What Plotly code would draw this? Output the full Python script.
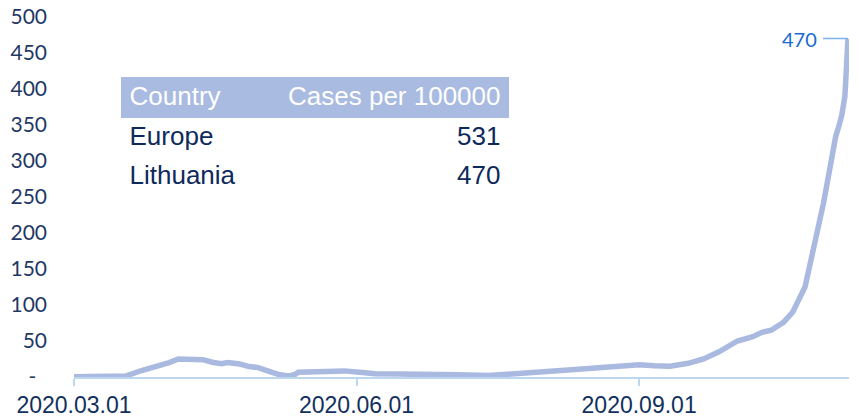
import plotly.graph_objects as go

# ---- data ----
dates = ["2020-03-01", "2020-03-10", "2020-03-18", "2020-03-23", "2020-03-29", "2020-04-01",
         "2020-04-04", "2020-04-08", "2020-04-12", "2020-04-15", "2020-04-18", "2020-04-20",
         "2020-04-24", "2020-04-27", "2020-04-30", "2020-05-04", "2020-05-07", "2020-05-10",
         "2020-05-12", "2020-05-13", "2020-05-22", "2020-05-28", "2020-06-02", "2020-06-07",
         "2020-06-15", "2020-06-24", "2020-07-04", "2020-07-14", "2020-07-22", "2020-07-30",
         "2020-08-10", "2020-08-21", "2020-09-01", "2020-09-06", "2020-09-11", "2020-09-17",
         "2020-09-22", "2020-09-27", "2020-10-03", "2020-10-08", "2020-10-11", "2020-10-14",
         "2020-10-18", "2020-10-21", "2020-10-23", "2020-10-24", "2020-10-25", "2020-10-26",
         "2020-10-27", "2020-10-28", "2020-10-29", "2020-10-30", "2020-10-31", "2020-11-01",
         "2020-11-02", "2020-11-03", "2020-11-04", "2020-11-05", "2020-11-06", "2020-11-07",
         "2020-11-08"]
lt_values = [0.5, 0.5, 1.5, 9, 16, 20,
             25, 24.5, 24, 20.5, 18.5, 20,
             18, 14.5, 13, 7, 3, 1.5,
             3.5, 6.5, 7.5, 8.5, 6.5, 4.5,
             4, 4, 3, 2, 4, 7,
             10, 13.5, 17, 15.5, 15, 19,
             25, 35, 50, 56, 62, 65,
             76, 90, 106, 116, 125, 144,
             162, 181, 199, 218, 241, 264,
             287, 315, 334, 348, 364, 390,
             470]

y_tickvals = [0, 50, 100, 150, 200, 250, 300, 350, 400, 450, 500]
y_ticktext = ["-\u00a0\u00a0", "50", "100", "150", "200", "250", "300", "350", "400", "450", "500"]
x_tickvals = ["2020-03-01", "2020-06-01", "2020-09-01"]
x_ticktext = ["2020.03.01", "2020.06.01", "2020.09.01"]

table_header = ["Country", "Cases per 100000"]
table_country = ["Europe", "Lithuania"]
table_cases = [531, 470]

# ---- styles ----
LINE = "#A9B9E0"
NAVY = "#1F3864"
AXIS = "#BDD7EE"
HEAD = "#A9BBE1"

fig = go.Figure()
fig.add_trace(go.Scatter(
    x=dates, y=lt_values, mode="lines",
    line=dict(color=LINE, width=5.5),
    hoverinfo="skip", showlegend=False, cliponaxis=False,
))

fig.add_trace(go.Table(
    domain=dict(x=[0.0613, 0.5619], y=[0.5056, 0.8333]),
    columnwidth=[0.3, 0.7],
    header=dict(values=table_header, fill_color=HEAD,
                font=dict(color="white", size=26, family="Liberation Sans, Arial"),
                align=["left", "right"], height=40, line=dict(color=HEAD, width=1)),
    cells=dict(values=[table_country, table_cases], fill_color="white",
               font=dict(color="#0E2A5C", size=26, family="Liberation Sans, Arial"),
               align=["left", "right"], height=39, line=dict(color="white", width=1)),
))

fig.add_annotation(
    x=dates[-1], y=lt_values[-1], text=f"{lt_values[-1]:.0f}\u00a0",
    showarrow=True, arrowhead=0, arrowwidth=1.5, arrowcolor="#7EB1F0",
    ax=-25, ay=0, xanchor="right", borderpad=0,
    font=dict(family="Lato", size=20, color="#1A6BD0"),
)

fig.update_layout(
    width=859, height=419,
    margin=dict(l=74, r=10, t=17, b=42),
    paper_bgcolor="white", plot_bgcolor="white",
    showlegend=False,
    xaxis=dict(
        type="date", range=["2020-03-01", "2020-11-08 08:00"],
        tickmode="array", tickvals=x_tickvals, ticktext=x_ticktext,
        showgrid=False, zeroline=False, automargin=False,
        showline=True, linecolor=AXIS, linewidth=1.5,
        ticks="outside", ticklen=7, tickcolor=AXIS, tickwidth=1.5,
        tickfont=dict(family="Liberation Sans, Arial", size=23, color="#12305E"),
        ticklabelstandoff=0,
    ),
    yaxis=dict(
        range=[0, 500], tickmode="array", tickvals=y_tickvals, ticktext=y_ticktext,
        showgrid=False, zeroline=False, showline=False, ticks="", automargin=False,
        tickfont=dict(family="Lato", size=21, color=NAVY),
        ticklabelstandoff=26,
    ),
)

fig.write_html("out.html", config={"displayModeBar": False},
               post_script="document.body.style.margin='0';")
